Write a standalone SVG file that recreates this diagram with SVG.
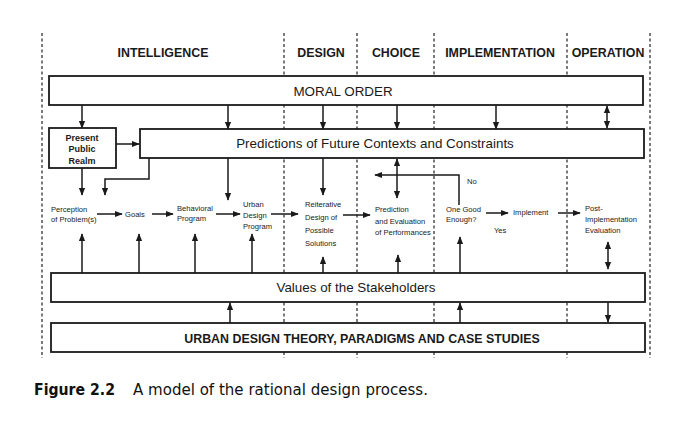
<svg xmlns="http://www.w3.org/2000/svg" width="698" height="448" viewBox="0 0 698 448">
<defs>
<marker id="ah" viewBox="0 0 10 10" refX="9" refY="5" markerWidth="8" markerHeight="8" markerUnits="userSpaceOnUse" orient="auto-start-reverse">
<path d="M0,1 L10,5 L0,9 Z" fill="#1a1a1a"/>
</marker>
</defs>
<style>
.dash{stroke:#222;stroke-width:1.2;stroke-dasharray:3,2.5;fill:none}
.box{fill:#fff;stroke:#1a1a1a;stroke-width:1.8}
.c{stroke:#1a1a1a;stroke-width:1.5;fill:none}
.a{marker-end:url(#ah)}
.b{marker-start:url(#ah);marker-end:url(#ah)}
.hd{font-family:"Liberation Sans",Arial,sans-serif;font-weight:bold;font-size:12.4px;fill:#1a1a1a;text-anchor:middle}
.big{font-family:"Liberation Sans",Arial,sans-serif;font-size:13.4px;fill:#1a1a1a;text-anchor:middle}
.sm{font-family:"Liberation Sans",Arial,sans-serif;font-size:7.6px;fill:#1a1a1a}
.smb{font-family:"Liberation Sans",Arial,sans-serif;font-size:9px;font-weight:bold;fill:#1a1a1a;text-anchor:middle}
.cap{font-family:"DejaVu Sans","Liberation Sans",sans-serif;font-size:15.5px;fill:#111}
</style>
<rect width="698" height="448" fill="#fff"/>
<g id="dividers">
<line class="dash" x1="42" y1="33" x2="42" y2="358"/>
<line class="dash" x1="284" y1="33" x2="284" y2="358"/>
<line class="dash" x1="357" y1="33" x2="357" y2="358"/>
<line class="dash" x1="434" y1="33" x2="434" y2="358"/>
<line class="dash" x1="567" y1="33" x2="567" y2="358"/>
<line class="dash" x1="650" y1="33" x2="650" y2="358"/>
</g>
<g id="headers">
<text class="hd" x="163" y="57">INTELLIGENCE</text>
<text class="hd" x="321" y="57">DESIGN</text>
<text class="hd" x="396" y="57">CHOICE</text>
<text class="hd" x="500" y="57">IMPLEMENTATION</text>
<text class="hd" x="608" y="57">OPERATION</text>
</g>
<g id="moral-order">
<rect class="box" x="49" y="76" width="594" height="29"/>
<text class="big" x="343" y="96" font-size="14.6">MORAL ORDER</text>
</g>
<g id="present-public-realm">
<rect class="box" x="49" y="128" width="67" height="40"/>
<text class="smb" x="82" y="141">Present</text>
<text class="smb" x="82" y="152">Public</text>
<text class="smb" x="82" y="164">Realm</text>
</g>
<g id="predictions">
<rect class="box" x="140" y="129" width="504" height="29"/>
<text class="big" x="375" y="148">Predictions of Future Contexts and Constraints</text>
</g>
<g id="values">
<rect class="box" x="51" y="273" width="594" height="29"/>
<text class="big" x="356" y="292">Values of the Stakeholders</text>
</g>
<g id="theory">
<rect class="box" x="51" y="323" width="594" height="29"/>
<text class="hd" x="362" y="343" font-size="12.6">URBAN DESIGN THEORY, PARADIGMS AND CASE STUDIES</text>
</g>
<g id="perception"><text class="sm" x="51" y="212">Perception</text><text class="sm" x="51" y="222">of Problem(s)</text></g>
<g id="goals"><text class="sm" x="125" y="217">Goals</text></g>
<g id="behavioral"><text class="sm" x="177" y="211">Behavioral</text><text class="sm" x="177" y="221">Program</text></g>
<g id="urban-program"><text class="sm" x="243" y="207">Urban</text><text class="sm" x="243" y="218">Design</text><text class="sm" x="243" y="229">Program</text></g>
<g id="reiterative"><text class="sm" x="305" y="207">Reiterative</text><text class="sm" x="305" y="220">Design of</text><text class="sm" x="305" y="233">Possible</text><text class="sm" x="305" y="246">Solutions</text></g>
<g id="prediction-eval"><text class="sm" x="375" y="212">Prediction</text><text class="sm" x="375" y="224">and Evaluation</text><text class="sm" x="375" y="235">of Performances</text></g>
<g id="one-good"><text class="sm" x="446" y="212">One Good</text><text class="sm" x="446" y="222">Enough?</text></g>
<g id="implement"><text class="sm" x="513" y="215">Implement</text></g>
<g id="post-impl"><text class="sm" x="585" y="211">Post-</text><text class="sm" x="585" y="222">Implementation</text><text class="sm" x="585" y="233">Evaluation</text></g>
<g id="connectors">
<line class="c a" x1="82" y1="105" x2="82" y2="128"/>
<line class="c a" x1="228" y1="105" x2="228" y2="129"/>
<line class="c a" x1="323" y1="105" x2="323" y2="129"/>
<line class="c a" x1="397" y1="105" x2="397" y2="129"/>
<line class="c a" x1="496" y1="105" x2="496" y2="129"/>
<line class="c b" x1="607" y1="106" x2="607" y2="128"/>
<line class="c a" x1="116" y1="144" x2="139" y2="144"/>
<line class="c a" x1="82" y1="168" x2="82" y2="195"/>
<polyline class="c a" points="149,158 149,179 105,179 105,195"/>
<line class="c a" x1="228" y1="158" x2="228" y2="200"/>
<line class="c a" x1="323" y1="158" x2="323" y2="195"/>
<line class="c b" x1="397" y1="159" x2="397" y2="198"/>
<polyline class="c a" points="459,205 459,175 375,175"/>
<text class="sm" x="467" y="184" font-size="6.5">No</text>
<line class="c a" x1="97" y1="214" x2="122" y2="214"/>
<line class="c a" x1="152" y1="214" x2="173" y2="214"/>
<line class="c a" x1="216" y1="214" x2="240" y2="214"/>
<line class="c a" x1="271" y1="214" x2="298" y2="214"/>
<line class="c a" x1="343" y1="215" x2="370" y2="215"/>
<line class="c a" x1="486" y1="213" x2="508" y2="213"/>
<text class="sm" x="494" y="233" font-size="7">Yes</text>
<line class="c a" x1="558" y1="213" x2="580" y2="213"/>
<line class="c b" x1="608" y1="242" x2="608" y2="269"/>
<line class="c a" x1="82" y1="273" x2="82" y2="234"/>
<line class="c a" x1="139" y1="273" x2="139" y2="234"/>
<line class="c a" x1="195" y1="273" x2="195" y2="234"/>
<line class="c a" x1="252" y1="273" x2="252" y2="234"/>
<line class="c a" x1="323" y1="273" x2="323" y2="257"/>
<line class="c a" x1="398" y1="273" x2="398" y2="255"/>
<line class="c a" x1="460" y1="273" x2="460" y2="237"/>
<line class="c a" x1="230" y1="323" x2="230" y2="303"/>
<line class="c a" x1="460" y1="323" x2="460" y2="303"/>
<line class="c a" x1="608" y1="302" x2="608" y2="322"/>
</g>
<g id="caption">
<text class="cap" x="34" y="395" font-weight="bold" textLength="81" lengthAdjust="spacingAndGlyphs">Figure 2.2</text>
<text class="cap" x="133" y="395" textLength="295" lengthAdjust="spacingAndGlyphs">A model of the rational design process.</text>
</g>
</svg>
